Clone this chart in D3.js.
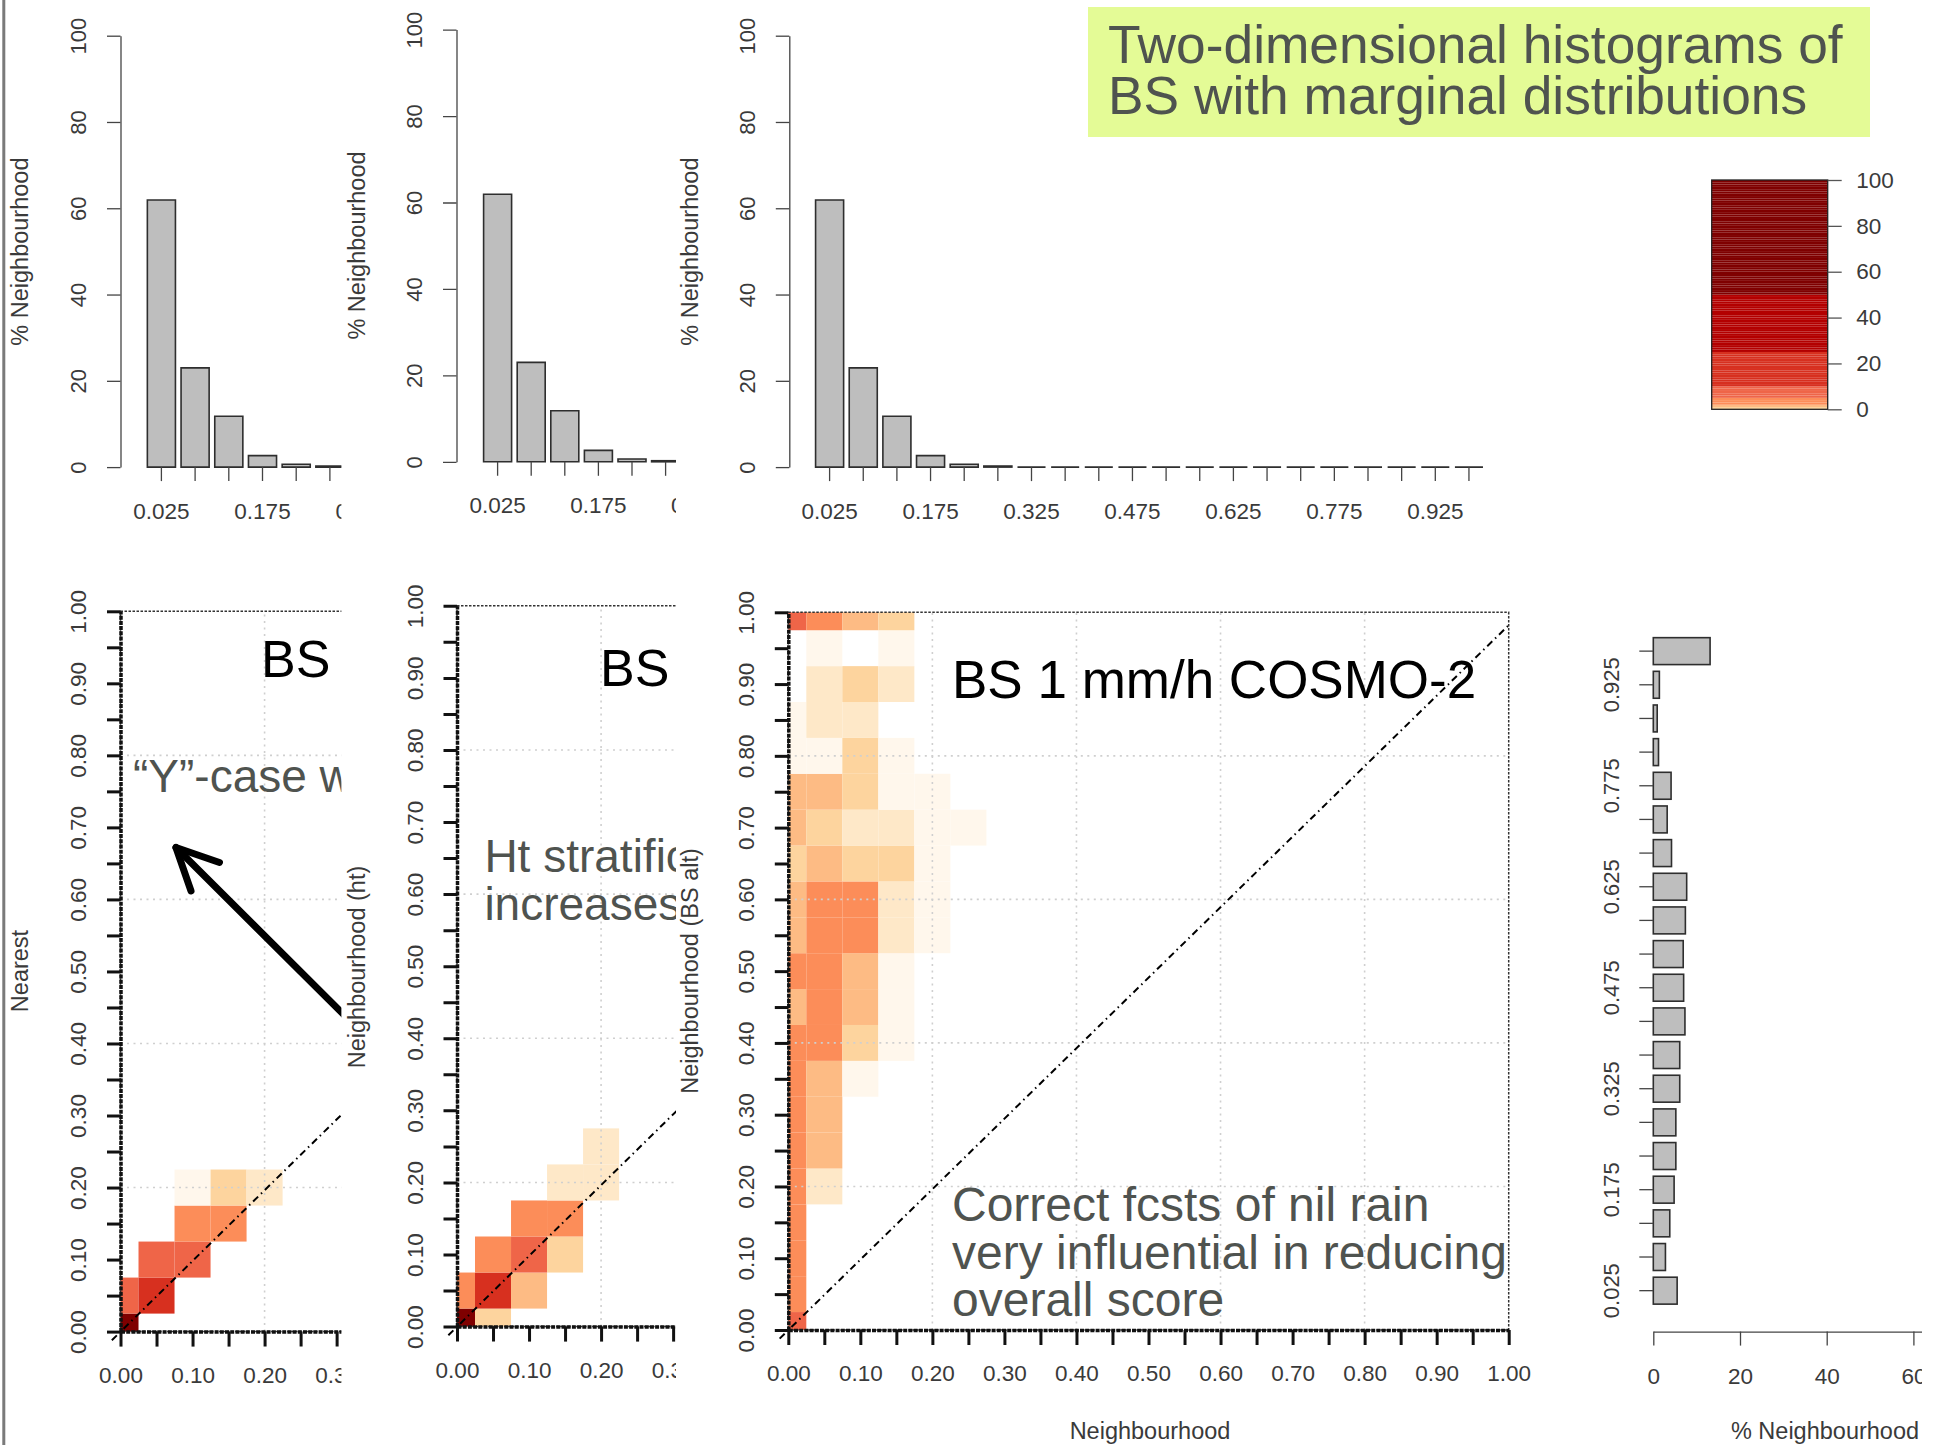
<!DOCTYPE html>
<html>
<head>
<meta charset="utf-8">
<script src="https://cdn.jsdelivr.net/npm/d3@7"></script>
<style>
  html, body { margin: 0; padding: 0; background: #ffffff; }
  svg { display: block; }
</style>
</head>
<body>
<svg id="chart" width="1934" height="1453"></svg>
<script>
// ---------------------------------------------------------------------------
// Data
// ---------------------------------------------------------------------------

// Histogram bins (centres) shared by all marginal histograms
const binLabels = ["0.025","0.075","0.125","0.175","0.225","0.275","0.325","0.375","0.425","0.475",
                   "0.525","0.575","0.625","0.675","0.725","0.775","0.825","0.875","0.925","0.975"];
// Bins that carry a printed label
const shownBins = ["0.025","0.175","0.325","0.475","0.625","0.775","0.925"];

// Marginal distribution along the top (% of cases per BS bin)
const topMarginal = [61.9, 23.0, 11.8, 2.65, 0.66, 0.25, 0, 0, 0, 0,
                     0, 0, 0, 0, 0, 0, 0, 0, 0, 0];

// Marginal distribution on the right, "Neighbourhood (BS alt)" (% per bin)
const altMarginal = [5.5, 2.8, 3.8, 4.8, 5.2, 5.2, 6.1, 6.1, 7.3, 7.0,
                     6.9, 7.4, 7.7, 4.2, 3.2, 4.1, 1.2, 0.9, 1.4, 13.1];

const percentTicks = [0, 20, 40, 60, 80, 100];
const rightHistTicks = [0, 20, 40, 60];
const legendTicks = [0, 20, 40, 60, 80, 100];

// Cell centres of the 2-D histograms (also the 0.05 tick positions)
const cellCentres = [0, 0.05, 0.10, 0.15, 0.20, 0.25, 0.30, 0.35, 0.40, 0.45, 0.50,
                     0.55, 0.60, 0.65, 0.70, 0.75, 0.80, 0.85, 0.90, 0.95, 1.00];

// 2-D histograms: row j = y centre cellCentres[j], column i = x centre cellCentres[i]
// values are % of cases
const nearestCounts = [
  [60, 0, 0, 0, 0],
  [7, 15, 0, 0, 0],
  [0, 7, 7, 0, 0],
  [0, 0, 3.5, 3.5, 0],
  [0, 0, 0.15, 0.8, 0.4]
];

const heightCounts = [
  [60, 0.8, 0, 0, 0],
  [3.5, 15, 1.8, 0, 0],
  [0, 3.5, 7, 0.8, 0],
  [0, 0, 3.5, 3.5, 0],
  [0, 0, 0, 0.4, 0.4],
  [0, 0, 0, 0, 0.4]
];

const cosmoCounts = [
  [7],                               // 0.00
  [3.5],                             // 0.05
  [3.5],                             // 0.10
  [3.5],                             // 0.15
  [3.5, 0.4],                        // 0.20
  [3.5, 1.8],                        // 0.25
  [3.5, 1.8],                        // 0.30
  [3.5, 1.8, 0.15],                  // 0.35
  [3.5, 3.5, 0.8, 0.15],             // 0.40
  [1.8, 3.5, 1.8, 0.15],             // 0.45
  [3.5, 3.5, 1.8, 0.15],             // 0.50
  [1.8, 3.5, 3.5, 0.4, 0.15],        // 0.55
  [1.8, 3.5, 3.5, 0.4, 0.15],        // 0.60
  [0.8, 1.8, 0.8, 0.8, 0.15],        // 0.65
  [1.8, 0.8, 0.4, 0.4, 0.15, 0.15],  // 0.70
  [1.8, 1.8, 0.8, 0.15, 0.15],       // 0.75
  [0.15, 0.15, 0.8, 0.15],           // 0.80
  [0.15, 0.4, 0.4],                  // 0.85
  [0, 0.4, 0.8, 0.4],                // 0.90
  [0, 0.15, 0, 0.15],                // 0.95
  [7, 3.5, 1.8, 0.8]                 // 1.00
];

// Reference line (near-diagonal) in data units
const refLine = [[-0.012, -0.012], [1.0, 0.982]];

// Annotation arrow in the first panel, data units
const arrowFrom = [0.32, 0.43];
const arrowTo = [0.077, 0.672];

// Colour classes
const colourBreaks = [0.25, 0.5, 1, 2.5, 5, 10, 25, 50];
const palette = ["#fff7ec","#fee8c8","#fdd49e","#fdbb84","#fc8d59","#ef6548","#d7301f","#b30000","#7f0000"];

// ---------------------------------------------------------------------------
// Drawing
// ---------------------------------------------------------------------------
const FONT = "'Liberation Sans', Arial, Helvetica, sans-serif";
const AXIS_TEXT = "#3a3a3a";
const NOTE_TEXT = "#4f534f";
const colour = d3.scaleThreshold().domain(colourBreaks).range(palette);

const svg = d3.select("#chart");
const defs = svg.append("defs");

function addClip(id, x0, x1) {
  defs.append("clipPath").attr("id", id)
    .append("rect").attr("x", x0).attr("y", 0).attr("width", x1 - x0).attr("height", 1453);
}
addClip("clip-a", 0, 341.5);
addClip("clip-b", 341.5, 676);
addClip("clip-c", 676, 1560);
addClip("clip-d", 1560, 1922);

const layerA = svg.append("g").attr("clip-path", "url(#clip-a)");
const layerB = svg.append("g").attr("clip-path", "url(#clip-b)");
const layerC = svg.append("g").attr("clip-path", "url(#clip-c)");
const layerD = svg.append("g").attr("clip-path", "url(#clip-d)");

function styleAxis(g, size) {
  g.attr("font-family", FONT).attr("font-size", size);
  g.selectAll("text").attr("fill", AXIS_TEXT);
}

function rotateLeftLabels(axisG, offset) {
  axisG.selectAll(".tick text")
    .attr("transform", "rotate(-90)")
    .attr("x", 0)
    .attr("y", -offset)
    .attr("dy", "0.35em")
    .attr("text-anchor", "middle");
}

function verticalTitle(g, text, cx, cy, size) {
  g.append("text")
    .attr("transform", `translate(${cx},${cy}) rotate(-90)`)
    .attr("text-anchor", "middle")
    .attr("dy", "0.35em")
    .attr("font-family", FONT)
    .attr("font-size", size)
    .attr("fill", AXIS_TEXT)
    .text(text);
}

// --- marginal histogram (vertical bars) ------------------------------------
function drawTopHist(g, o) {
  const y = d3.scaleLinear().domain([0, 100]).range([o.y0, o.y100]);
  const r0 = o.firstCentre - o.step / 2;
  const x = d3.scaleBand().domain(binLabels)
    .range([r0, r0 + o.step * binLabels.length])
    .paddingInner(1 / 6).paddingOuter(1 / 12);

  g.append("g").selectAll("path")
    .data(topMarginal.map((v, i) => ({ bin: binLabels[i], v })))
    .join("path")
    .attr("d", d => {
      const x0 = x(d.bin), x1 = x0 + x.bandwidth();
      return `M${x0},${y(0)}V${y(d.v)}H${x1}V${y(0)}Z`;
    })
    .attr("fill", "#bebebe")
    .attr("stroke", "#2e2e2e")
    .attr("stroke-width", 1.6);

  // only labels that fall inside the visible part of the panel
  const labelled = shownBins.filter(b => +b <= o.labelMax);
  const xa = g.append("g")
    .attr("transform", `translate(0,${y(0)})`)
    .call(d3.axisBottom(x).tickSize(14).tickPadding(21.5)
      .tickFormat(d => labelled.includes(d) ? d : ""));
  xa.select(".domain").remove();
  xa.attr("color", "#444");
  xa.selectAll(".tick line").attr("stroke-width", 1.3);
  styleAxis(xa, 22.5);

  const ya = g.append("g")
    .attr("transform", `translate(${o.axisX},0)`)
    .call(d3.axisLeft(y).tickValues(percentTicks).tickSize(13.5).tickSizeOuter(0));
  ya.attr("color", "#444");
  ya.selectAll("path, line").attr("stroke-width", 1.3);
  styleAxis(ya, 22);
  rotateLeftLabels(ya, 42.5);

  verticalTitle(g, "% Neighbourhood", o.titleX, o.titleY, 23.5);
}

// --- 2-D histogram panel -----------------------------------------------------
function drawHeatPanel(g, o) {
  const x = d3.scaleLinear().domain([0, 1]).range([o.left, o.left + 720.4]);
  const y = d3.scaleLinear().domain([0, 1]).range([o.bottom, o.top]);
  const half = 0.025;

  const cells = [];
  o.counts.forEach((row, j) => row.forEach((v, i) => {
    if (v > 0) cells.push({ cx: cellCentres[i], cy: cellCentres[j], v });
  }));

  g.append("g").selectAll("rect")
    .data(cells)
    .join("rect")
    .attr("x", d => x(Math.max(0, d.cx - half)))
    .attr("width", d => x(Math.min(1, d.cx + half)) - x(Math.max(0, d.cx - half)))
    .attr("y", d => y(Math.min(1, d.cy + half)))
    .attr("height", d => y(Math.max(0, d.cy - half)) - y(Math.min(1, d.cy + half)))
    .attr("fill", d => colour(d.v));

  // light dotted grid
  const gridVals = [0.2, 0.4, 0.6, 0.8];
  const grid = g.append("g").attr("stroke", "#cfcfcf").attr("stroke-width", 1.6)
    .attr("stroke-dasharray", "2,4.5");
  grid.selectAll("line.h").data(gridVals).join("line").attr("class", "h")
    .attr("x1", x(0)).attr("x2", x(1)).attr("y1", d => y(d)).attr("y2", d => y(d));
  grid.selectAll("line.v").data(gridVals).join("line").attr("class", "v")
    .attr("y1", y(0)).attr("y2", y(1)).attr("x1", d => x(d)).attr("x2", d => x(d));

  // reference line
  g.append("path")
    .attr("d", d3.line().x(d => x(d[0])).y(d => y(d[1]))(refLine))
    .attr("fill", "none").attr("stroke", "#000").attr("stroke-width", 2)
    .attr("stroke-dasharray", "7,4,1.5,4");

  // dotted frame
  g.append("rect")
    .attr("x", x(0)).attr("y", y(1))
    .attr("width", x(1) - x(0)).attr("height", y(0) - y(1))
    .attr("fill", "none").attr("stroke", "#333").attr("stroke-width", 1.5)
    .attr("stroke-dasharray", "2.5,1.5");

  const fmt = d3.format(".2f");
  const ya = g.append("g").attr("transform", `translate(${x(0)},0)`)
    .call(d3.axisLeft(y).tickValues(cellCentres).tickSize(13.5).tickSizeOuter(0)
      .tickFormat((d, i) => i % 2 === 0 ? fmt(d) : ""));
  ya.attr("color", "#111");
  ya.select(".domain").attr("stroke-width", 3.5).attr("stroke-dasharray", "4,1.2");
  ya.selectAll(".tick line").attr("stroke-width", 3);
  styleAxis(ya, 22.5);
  rotateLeftLabels(ya, 42);

  const xa = g.append("g").attr("transform", `translate(0,${y(0)})`)
    .call(d3.axisBottom(x).tickValues(cellCentres).tickSize(15).tickSizeOuter(0).tickPadding(20)
      .tickFormat((d, i) => (i % 2 === 0 && d <= o.labelMax + 1e-9) ? fmt(d) : ""));
  xa.attr("color", "#111");
  xa.select(".domain").attr("stroke-width", 3.5).attr("stroke-dasharray", "4,1.2");
  xa.selectAll(".tick line").attr("stroke-width", 3);
  styleAxis(xa, 22.5);

  return { x, y };
}

// ---------------------------------------------------------------------------
// Panel A : nearest
// ---------------------------------------------------------------------------
drawTopHist(layerA, { axisX: 120.5, y0: 467.1, y100: 35.7, firstCentre: 161.4, step: 33.7,
                      titleX: 20, titleY: 251.6, labelMax: 0.33 });
const pA = drawHeatPanel(layerA, { left: 120.5, bottom: 1331.6, top: 611.3, counts: nearestCounts, labelMax: 0.3 });
verticalTitle(layerA, "Nearest", 20, 971, 23.5);

layerA.append("text")
  .attr("x", 261).attr("y", 676.5)
  .attr("font-family", FONT).attr("font-size", 52).attr("fill", "#000")
  .text("BS");
layerA.append("text")
  .attr("x", 133).attr("y", 792)
  .attr("font-family", FONT).attr("font-size", 46).attr("fill", NOTE_TEXT)
  .text("\u201CY\u201D-case w");

// arrow
(function () {
  const [tx, ty] = [pA.x(arrowTo[0]), pA.y(arrowTo[1])];
  const [fx, fy] = [pA.x(arrowFrom[0]), pA.y(arrowFrom[1])];
  const ang = Math.atan2(fy - ty, fx - tx);
  const wing = 46, spread = 26 * Math.PI / 180;
  const w1 = [tx + wing * Math.cos(ang - spread), ty + wing * Math.sin(ang - spread)];
  const w2 = [tx + wing * Math.cos(ang + spread), ty + wing * Math.sin(ang + spread)];
  const a = layerA.append("g").attr("fill", "none").attr("stroke", "#000")
    .attr("stroke-width", 7).attr("stroke-linecap", "round").attr("stroke-linejoin", "round");
  a.append("path").attr("d", `M${fx},${fy}L${tx},${ty}`);
  a.append("path").attr("d", `M${w1[0]},${w1[1]}L${tx},${ty}L${w2[0]},${w2[1]}`);
})();

// ---------------------------------------------------------------------------
// Panel B : height-stratified neighbourhood
// ---------------------------------------------------------------------------
layerB.append("rect").attr("x", 341.5).attr("y", 0).attr("width", 340).attr("height", 1453).attr("fill", "#fff");
drawTopHist(layerB, { axisX: 456.5, y0: 461.8, y100: 29.6, firstCentre: 497.6, step: 33.6,
                      titleX: 357, titleY: 245.5, labelMax: 0.33 });
drawHeatPanel(layerB, { left: 457, bottom: 1326.6, top: 605.8, counts: heightCounts, labelMax: 0.3 });
verticalTitle(layerB, "Neighbourhood (ht)", 357, 967, 23.5);

layerB.append("text")
  .attr("x", 600).attr("y", 686.4)
  .attr("font-family", FONT).attr("font-size", 52).attr("fill", "#000")
  .text("BS");
const noteB = layerB.append("text")
  .attr("font-family", FONT).attr("font-size", 46).attr("fill", NOTE_TEXT);
noteB.append("tspan").attr("x", 484.4).attr("y", 872).text("Ht stratific");
noteB.append("tspan").attr("x", 484.4).attr("y", 920).text("increases");

// ---------------------------------------------------------------------------
// Panel C : COSMO-2 neighbourhood
// ---------------------------------------------------------------------------
layerC.append("rect").attr("x", 676).attr("y", 0).attr("width", 900).attr("height", 1453).attr("fill", "#fff");
drawTopHist(layerC, { axisX: 789.3, y0: 467.1, y100: 35.7, firstCentre: 829.6, step: 33.65,
                      titleX: 689.7, titleY: 251.6, labelMax: 1 });
drawHeatPanel(layerC, { left: 788.3, bottom: 1330, top: 612.3, counts: cosmoCounts, labelMax: 1 });
verticalTitle(layerC, "Neighbourhood (BS alt)", 690, 971, 23.5);

layerC.append("text")
  .attr("x", 1150).attr("y", 1431).attr("dy", "0.35em")
  .attr("text-anchor", "middle")
  .attr("font-family", FONT).attr("font-size", 23.5).attr("fill", AXIS_TEXT)
  .text("Neighbourhood");

layerC.append("text")
  .attr("x", 952).attr("y", 697.8)
  .attr("font-family", FONT).attr("font-size", 53).attr("fill", "#000")
  .text("BS 1 mm/h COSMO-2");

const noteC = layerC.append("text")
  .attr("font-family", FONT).attr("font-size", 48).attr("fill", NOTE_TEXT);
noteC.append("tspan").attr("x", 952).attr("y", 1221).text("Correct fcsts of nil rain");
noteC.append("tspan").attr("x", 952).attr("y", 1268.5).text("very influential in reducing");
noteC.append("tspan").attr("x", 952).attr("y", 1316).text("overall score");

// ---------------------------------------------------------------------------
// Right marginal histogram (horizontal bars)
// ---------------------------------------------------------------------------
(function () {
  const g = layerD;
  const x = d3.scaleLinear().domain([0, 65]).range([1653.3, 1653.3 + 65 * 4.335]);
  const y = d3.scaleBand().domain(binLabels.slice().reverse())
    .range([634.3, 634.3 + 33.66 * binLabels.length])
    .paddingInner(0.2).paddingOuter(0.1);

  g.append("g").selectAll("rect")
    .data(altMarginal.map((v, i) => ({ bin: binLabels[i], v })))
    .join("rect")
    .attr("x", x(0)).attr("y", d => y(d.bin))
    .attr("width", d => x(d.v) - x(0)).attr("height", y.bandwidth())
    .attr("fill", "#bebebe").attr("stroke", "#2e2e2e").attr("stroke-width", 1.6);

  const ya = g.append("g").attr("transform", `translate(${x(0)},0)`)
    .call(d3.axisLeft(y).tickSize(14).tickSizeOuter(0).tickPadding(12)
      .tickFormat(d => shownBins.includes(d) ? d : ""));
  ya.select(".domain").remove();
  ya.attr("color", "#444");
  ya.selectAll(".tick line").attr("stroke-width", 1.3);
  styleAxis(ya, 22);
  rotateLeftLabels(ya, 41.6);

  const xa = g.append("g").attr("transform", `translate(0,1331.6)`)
    .call(d3.axisBottom(x).tickValues(rightHistTicks).tickSize(14).tickSizeOuter(0).tickPadding(22));
  xa.attr("color", "#444");
  xa.selectAll("path, line").attr("stroke-width", 1.3);
  styleAxis(xa, 22.5);

  g.append("text")
    .attr("x", 1825).attr("y", 1431).attr("dy", "0.35em")
    .attr("text-anchor", "middle")
    .attr("font-family", FONT).attr("font-size", 23.5).attr("fill", AXIS_TEXT)
    .text("% Neighbourhood");
})();

// ---------------------------------------------------------------------------
// Colour key
// ---------------------------------------------------------------------------
(function () {
  const ky = d3.scaleLinear().domain([0, 100]).range([409.3, 180]);
  const kx0 = 1711.7, kx1 = 1827.7;
  const strips = d3.range(100);
  svg.append("g").selectAll("rect")
    .data(strips)
    .join("rect")
    .attr("x", kx0).attr("width", kx1 - kx0)
    .attr("y", d => ky(d + 1)).attr("height", d => ky(d) - ky(d + 1))
    .attr("fill", d => colour(d + 0.5));
  svg.append("rect")
    .attr("x", kx0).attr("y", ky(100)).attr("width", kx1 - kx0).attr("height", ky(0) - ky(100))
    .attr("fill", "none").attr("stroke", "#222").attr("stroke-width", 1.3);
  const ka = svg.append("g").attr("transform", `translate(${kx1},0)`)
    .call(d3.axisRight(ky).tickValues(legendTicks).tickSize(14).tickSizeOuter(0).tickPadding(14.5));
  ka.select(".domain").remove();
  ka.attr("color", "#555");
  ka.selectAll(".tick line").attr("stroke-width", 1.3);
  styleAxis(ka, 22.5);
})();

// ---------------------------------------------------------------------------
// Heading box and page edge
// ---------------------------------------------------------------------------
svg.append("rect")
  .attr("x", 1088).attr("y", 7).attr("width", 782).attr("height", 130)
  .attr("fill", "#e4fb96");
const heading = svg.append("text")
  .attr("font-family", FONT).attr("font-size", 53.3).attr("fill", NOTE_TEXT);
heading.append("tspan").attr("x", 1108).attr("y", 62.5).text("Two-dimensional histograms of");
heading.append("tspan").attr("x", 1108).attr("y", 114.3).text("BS with marginal distributions");

svg.append("line")
  .attr("x1", 3.8).attr("x2", 3.8).attr("y1", 0).attr("y2", 1445)
  .attr("stroke", "#7a7a7a").attr("stroke-width", 3);
</script>
</body>
</html>
